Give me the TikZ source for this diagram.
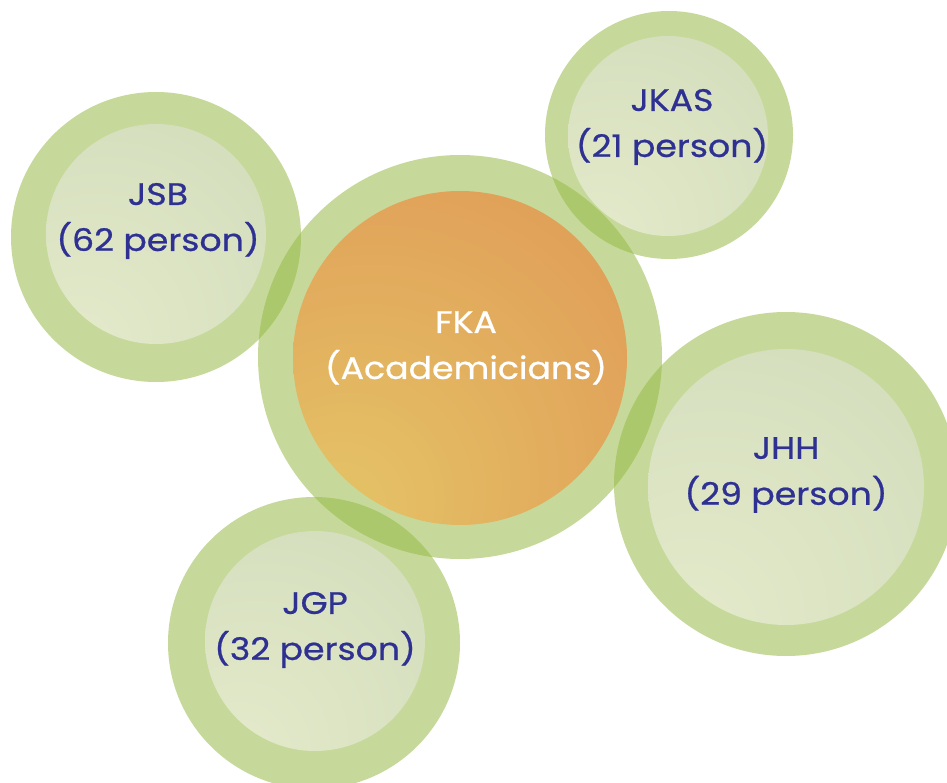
\documentclass[tikz,border=0pt]{standalone}
\usepackage{fontspec}
\setmainfont{Poppins}[FakeStretch=1.12, FakeBold=0.7]
\definecolor{ringgreen}{HTML}{97BA47}
\definecolor{paleA}{HTML}{E5EBCC}
\definecolor{paleB}{HTML}{D4DEBD}
\definecolor{orangeA}{HTML}{E5C567}
\definecolor{orangeB}{HTML}{E09E58}
\definecolor{inkblue}{HTML}{2E3192}
\pgfdeclareradialshading{paleglow}{\pgfpoint{-20bp}{-30bp}}{color(0bp)=(paleA); color(45bp)=(paleB); color(90bp)=(paleB)}
\pgfdeclareradialshading{orangeglow}{\pgfpoint{-20bp}{-25bp}}{color(0bp)=(orangeA); color(45bp)=(orangeB); color(90bp)=(orangeB)}

\begin{document}
\begin{tikzpicture}[x=1pt,y=-1pt,
  ring/.style={circle, fill=ringgreen, fill opacity=0.55, inner sep=0pt, outer sep=0pt},
  core/.style={circle, shading=paleglow, inner sep=0pt, outer sep=0pt},
  hub/.style={circle, shading=orangeglow, inner sep=0pt, outer sep=0pt},
  tag/.style={align=center, text=inkblue, font=\fontsize{31}{46}\selectfont}]
  \useasboundingbox (0,0) rectangle (947,783);

  % outer rings
  \node[ring, minimum size=290pt] (jsbring) at (156,237) {};
  \node[ring, minimum size=404pt] (fkaring) at (460,357) {};
  \node[ring, minimum size=248pt] (jkasring) at (669,135) {};
  \node[ring, minimum size=344pt] (jhhring) at (786,484) {};
  \node[ring, minimum size=292pt] (jgpring) at (314,643) {};

  % inner discs
  \node[core, minimum size=220pt] (jsb) at (156,234) {};
  \node[hub, minimum size=334pt] (fka) at (460,358) {};
  \node[core, minimum size=200pt] (jkas) at (668,136) {};
  \node[core, minimum size=276pt] (jhh) at (786,487) {};
  \node[core, minimum size=220pt] (jgp) at (315,641) {};

  % texts
  \node[tag] (jsblabel) at (158,221) {JSB\\(62 person)};
  \node[tag, text=white] (fkalabel) at (466,348) {FKA\\(Academicians)};
  \node[tag] (jkaslabel) at (672,127) {JKAS\\(21 person)};
  \node[tag] (jhhlabel) at (786,475) {JHH\\(29 person)};
  \node[tag] (jgplabel) at (315,630) {JGP\\(32 person)};
\end{tikzpicture}
\end{document}
